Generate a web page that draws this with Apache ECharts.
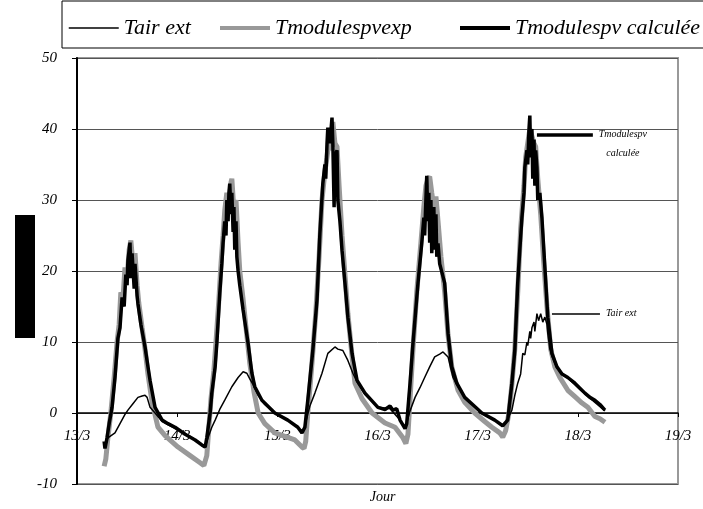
<!DOCTYPE html>
<html>
<head>
<meta charset="utf-8">
<script src="https://cdn.jsdelivr.net/npm/echarts@6/dist/echarts.min.js"></script>
<style>
  html, body { margin: 0; padding: 0; background: #fff; }
  #chart { width: 703px; height: 509px; }
</style>
</head>
<body>
<div id="chart"></div>
<script>
// x = hours since 13/3 00:00
const dayLabels = ['13/3', '14/3', '15/3', '16/3', '17/3', '18/3', '19/3']
const yTicks = [-10, 0, 10, 20, 30, 40, 50]
const seriesNames = ['Tair ext', 'Tmodulespvexp', 'Tmodulespv calculée']

const tairHours = [
  6.5, 7.4, 9.1, 10.3, 11.5, 12.2, 13.4, 14.6, 15.6, 16.3, 16.8, 17.5, 18.7, 20.4, 23.5, 27.1, 29.5, 30.7,
  31.4, 32.3, 33.1, 34.2, 35.4, 37.1, 38.6, 39.8, 40.7, 41.4, 42.2, 43.4, 45.0, 47.4, 50.5, 52.9, 53.9,
  54.6, 55.8, 57.0, 58.7, 60.1, 61.8, 62.5, 63.7, 64.9, 66.1, 67.1, 69.0, 72.1, 75.0, 77.4, 78.6,
  79.0, 79.8, 81.0, 82.2, 83.3, 84.5, 85.7, 86.9, 87.7, 88.9, 90.1, 91.0, 92.9, 97.0, 100.1, 102.0,
  102.7, 103.5, 104.2, 104.9, 105.6, 106.3, 106.8, 107.3, 107.8, 108.0, 108.5, 108.7, 109.0, 109.5, 109.7,
  110.2, 110.6, 111.1, 111.6, 112.1, 112.6, 112.8, 113.3, 113.8, 115.0, 117.6, 121.7, 126.5
]
const tairValues = [
  -4.5, -3.5, -2.8, -1.5, -0.2, 0.4, 1.3, 2.2, 2.4, 2.5, 2.2, 0.8, 0, -1.2, -2.2, -3.3, -4.2, -4.8,
  -3.5, -2, -1, 0.5, 1.8, 3.7, 5, 5.8, 5.6, 4.8, 4, 2.5, 1.2, 0, -1, -2, -2.8,
  -1.8, 1, 2.8, 5.6, 8.4, 9.3, 9, 8.8, 7.4, 5.6, 4.4, 2.6, 0.8, 0.6, -1, -2,
  -1.4, 0.3, 2.2, 3.6, 5, 6.5, 7.9, 8.3, 8.6, 7.9, 5, 4, 2.2, 0, -1, -1.8,
  -1.4, -0.5, 0.4, 2.5, 4.2, 5.5, 8.4, 8.2, 10, 9.5, 11.5, 10.5, 12, 12.8, 11.5,
  14, 13, 14, 12.8, 13.5, 12.5, 11.2, 9, 8, 6.3, 4.9, 2.7, 0.3
]

const expHours = [
  6.5, 6.9, 7.4, 8.1, 8.9, 9.6, 10.1, 10.5, 11.0, 11.5, 12.0, 12.5, 12.9, 13.4, 13.9, 14.4, 14.8, 15.6, 16.3, 17.0, 18.0, 19.4, 21.1, 24.2, 27.1, 29.5, 30.4,
  31.1, 31.6, 32.1, 32.8, 33.3, 34.0, 34.5, 35.0, 35.4, 35.9, 36.4, 36.9, 37.1, 37.6, 38.1, 38.6, 39.0, 39.8, 40.5, 41.4, 42.4, 43.4, 45.0, 47.4, 49.8, 52.2, 53.9, 54.4,
  54.8, 55.3, 56.3, 57.2, 58.0, 58.7, 59.4, 59.9, 60.4, 60.8, 61.3, 61.8, 62.3, 62.8, 63.5, 64.2, 64.9, 65.9, 66.6, 68.3, 70.7, 73.8, 76.2, 78.1, 78.8,
  79.3, 79.8, 80.5, 81.4, 82.4, 83.1, 83.6, 84.1, 84.5, 85.0, 85.5, 86.0, 86.5, 87.2, 88.1, 88.9, 89.8, 91.3, 92.9, 95.3, 97.7, 99.4, 101.3, 102.0,
  102.7, 103.5, 104.2, 104.9, 105.6, 106.3, 107.1, 107.5, 108.0, 108.5, 109.0, 109.5, 109.9, 110.4, 111.1, 111.8, 112.6, 113.5, 114.5, 115.7, 117.6, 119.3, 121.0, 122.4, 124.1, 125.3, 126.5
]
const expValues = [
  -7.5, -6.5, -3.5, 0, 5, 10, 12.5, 17, 16, 20.5, 19, 23, 24.3, 21, 22.5, 18, 15.5, 12, 9, 5.5, 1.5, -2, -3.2, -4.8, -6, -7, -7.4,
  -6, -2, 2, 6, 10, 16, 21, 25, 28.5, 31, 29, 32.5, 33, 28.5, 30, 24, 20, 16, 12, 7, 3, 0, -1.5, -2.8, -3.3, -3.8, -4.8, -5,
  -4, 0, 7, 14, 22, 30, 34, 36, 38.5, 37, 41, 38, 37.5, 32, 25, 19.5, 14, 8, 4.2, 2, 0, -1.4, -2, -3.5, -4.3,
  -3, 2, 9, 17, 24, 29, 32, 33, 33.3, 31, 29, 30.5, 27, 22, 17, 11, 6.5, 3.2, 1.5, 0, -1.2, -2, -2.8, -3.4,
  -2.5, 0, 4, 9, 17, 26, 32, 36, 38, 40, 39, 38, 37.5, 33, 28, 21.5, 15, 9, 6.5, 5, 3.2, 2.3, 1.4, 0.8, -0.5, -0.8, -1.3
]

const calcHours = [
  6.5, 6.7, 7.2, 7.7, 8.4, 9.1, 9.8, 10.3, 10.8, 11.3, 11.7, 12.0, 12.2, 12.7, 12.9, 13.2, 13.7, 13.9, 14.4, 14.6, 15.3, 16.3, 17.0, 17.5, 18.7, 20.4, 21.8, 23.5, 25.9, 28.3, 29.9, 30.7,
  31.1, 31.9, 32.3, 33.1, 33.5, 34.2, 34.7, 35.0, 35.4, 35.7, 35.9, 36.2, 36.4, 36.6, 36.9, 37.1, 37.4, 37.6, 37.8, 38.1, 38.3, 38.6, 39.0, 39.8, 41.0, 41.9, 42.6, 44.3, 47.4, 50.5, 52.9, 53.9,
  54.6, 55.3, 56.5, 57.5, 58.2, 58.9, 59.4, 59.6, 59.9, 60.1, 60.6, 61.1, 61.3, 61.6, 61.8, 62.3, 62.5, 63.0, 63.5, 64.2, 64.9, 65.9, 67.1, 69.0, 72.1, 73.8, 75.0, 75.7, 76.6, 77.4, 78.6,
  79.0, 79.8, 80.5, 81.7, 82.6, 83.1, 83.3, 83.8, 84.1, 84.3, 84.5, 84.8, 85.0, 85.5, 85.7, 86.0, 86.2, 86.5, 86.9, 88.1, 88.9, 89.8, 91.0, 92.9, 97.0, 100.1, 102.0,
  103.2, 104.2, 104.9, 105.6, 106.1, 106.6, 107.1, 107.3, 107.8, 108.0, 108.3, 108.5, 108.7, 109.0, 109.2, 109.5, 109.7, 109.9, 110.2, 110.4, 110.9, 111.4, 112.1, 112.8, 113.8,
  115.0, 116.2, 117.6, 119.3, 120.5, 121.7, 122.9, 124.1, 125.3, 126.5
]
const calcValues = [
  -4, -5, -3.5, -1.5, 0.8, 5, 10.5, 12, 16.3, 15, 19.5, 18, 21.5, 24, 19, 22.5, 17.5, 21, 16.5, 15.4, 12.5, 9.3, 6.5, 4.6, 0.8, -1, -1.5, -2, -3, -3.8, -4.5, -4.8,
  -3.5, 0, 2.8, 6.5, 9.8, 16.8, 21, 24, 27, 25, 30, 27, 31, 32.3, 28, 31, 25.5, 29, 23, 27, 22, 20, 18, 14.5, 9.8, 5.6, 3.7, 1.8, 0, -1, -2, -2.8,
  -2, 1.8, 8.8, 15.9, 25.3, 32.3, 35, 33, 37.9, 40.2, 38, 41.6, 38, 29, 36, 37, 30, 27, 22.9, 18.3, 13.5, 8.4, 4.6, 2.8, 0.8, 0.5, 1, 0.4, 0.6, -1, -2.2,
  -1.5, 4.2, 9.8, 18.3, 23.9, 27.5, 25, 33.4, 27, 31, 24, 30, 22.5, 29, 23, 28, 22, 23.9, 21, 18.3, 11.2, 6.5, 4.2, 2.2, 0, -1, -1.8,
  -1, 4.2, 8.8, 18.3, 23, 27.5, 31, 34.6, 37, 35, 40, 41.9, 36, 40, 33, 38.5, 32, 37, 34.6, 30, 31, 27.5, 20.5, 13.5, 8.4,
  6.5, 5.5, 5, 4.2, 3.5, 2.8, 2.2, 1.8, 1.2, 0.4
]

// callout lines: [startHour, endHour, value]
const calcCallout = [110.2, 123.6, 39.2]
const tairCallout = [113.8, 125.3, 14.0]

const serif = 'Liberation Serif'

function pairs(hours, values) {
  return hours.map((h, i) => [h, values[i]])
}

// one legend per item so each entry can sit where the original has it
function legendAt(name, left, lineWidth) {
  return {
    left: left,
    top: 12,
    itemWidth: 50,
    itemHeight: 12,
    itemGap: 0,
    itemStyle: { opacity: 0 },
    lineStyle: { width: lineWidth },
    textStyle: {
      fontFamily: serif,
      fontStyle: 'italic',
      fontSize: 22,
      color: '#000'
    },
    data: [name]
  }
}

const chart = echarts.init(document.getElementById('chart'))

const option = {
  animation: false,
  backgroundColor: '#fff',
  grid: {
    left: 77,
    right: 25,
    top: 58,
    bottom: 25,
    outerBoundsMode: 'none',
    containLabel: false,
    show: true,
    borderColor: '#999',
    borderWidth: 2
  },
  legend: [
    legendAt(seriesNames[0], 63, 1.5),
    legendAt(seriesNames[1], 213, 4),
    legendAt(seriesNames[2], 453, 4)
  ],
  graphic: [
    {
      type: 'rect',
      shape: { x: 62, y: 1, width: 650, height: 47 },
      style: { fill: 'none', stroke: '#000', lineWidth: 1 }
    },
    {
      type: 'rect',
      shape: { x: 15, y: 215, width: 20, height: 123 },
      style: { fill: '#000' }
    }
  ],
  xAxis: {
    type: 'value',
    min: 0,
    max: 144,
    interval: 24,
    name: 'Jour',
    nameLocation: 'middle',
    nameGap: 6,
    nameTextStyle: {
      fontFamily: serif,
      fontStyle: 'italic',
      fontSize: 14,
      color: '#000',
      padding: [0, 0, 0, 10]
    },
    axisLine: { onZero: true, lineStyle: { color: '#000', width: 1.5 } },
    axisTick: { show: true, length: 4, lineStyle: { color: '#000' } },
    axisLabel: {
      margin: -55,
      fontFamily: serif,
      fontStyle: 'italic',
      fontSize: 15,
      color: '#000',
      formatter: v => dayLabels[Math.round(v / 24)]
    },
    splitLine: { show: false }
  },
  yAxis: {
    type: 'value',
    min: yTicks[0],
    max: yTicks[yTicks.length - 1],
    interval: 10,
    axisLine: { show: true, lineStyle: { color: '#000', width: 2 } },
    axisTick: { show: true, length: 5, lineStyle: { color: '#000' } },
    axisLabel: {
      margin: 20,
      fontFamily: serif,
      fontStyle: 'italic',
      fontSize: 15,
      color: '#000'
    },
    splitLine: { show: true, lineStyle: { color: '#555', width: 1 } }
  },
  series: [
    {
      name: seriesNames[0],
      type: 'line',
      z: 4,
      symbol: 'none',
      data: pairs(tairHours, tairValues),
      lineStyle: { color: '#000', width: 1.5 },
      itemStyle: { color: '#000' },
      markLine: {
        silent: true,
        symbol: 'none',
        lineStyle: { color: '#000', width: 1.5, type: 'solid' },
        label: {
          position: 'end',
          distance: 6,
          fontFamily: serif,
          fontStyle: 'italic',
          fontSize: 10,
          color: '#000',
          formatter: 'Tair ext'
        },
        data: [[
          { coord: [tairCallout[0], tairCallout[2]] },
          { coord: [tairCallout[1], tairCallout[2]] }
        ]]
      }
    },
    {
      name: seriesNames[1],
      type: 'line',
      z: 2,
      symbol: 'none',
      data: pairs(expHours, expValues),
      lineStyle: { color: '#999', width: 5 },
      itemStyle: { color: '#999' }
    },
    {
      name: seriesNames[2],
      type: 'line',
      z: 3,
      symbol: 'none',
      data: pairs(calcHours, calcValues),
      lineStyle: { color: '#000', width: 3.5 },
      itemStyle: { color: '#000' },
      markLine: {
        silent: true,
        symbol: 'none',
        lineStyle: { color: '#000', width: 3.5, type: 'solid' },
        label: {
          position: 'end',
          distance: 4,
          fontFamily: serif,
          fontStyle: 'italic',
          fontSize: 10,
          lineHeight: 19,
          align: 'center',
          offset: [26, 9],
          color: '#000',
          formatter: 'Tmodulespv\ncalculée'
        },
        data: [[
          { coord: [calcCallout[0], calcCallout[2]] },
          { coord: [calcCallout[1], calcCallout[2]] }
        ]]
      }
    }
  ]
}

chart.setOption(option)
</script>
</body>
</html>
